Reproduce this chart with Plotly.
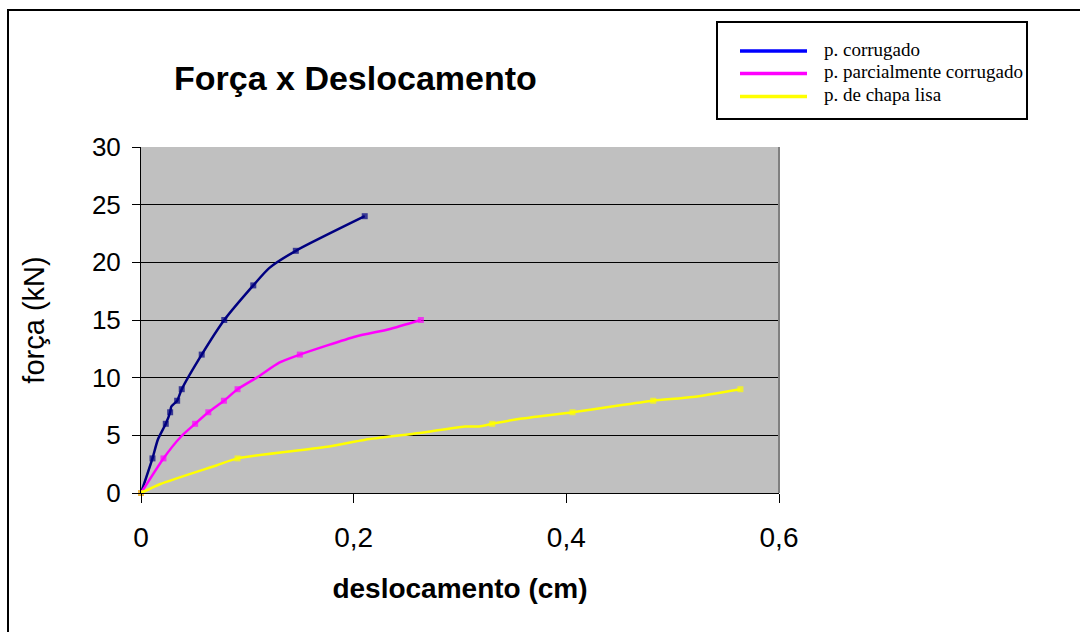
import plotly.graph_objects as go

# Load-displacement readings for the three panel types
corrugado_x = [0, 0.0108, 0.0158, 0.0233, 0.0274, 0.0285, 0.034, 0.0383, 0.0571, 0.0783, 0.1056, 0.1205, 0.1456, 0.2104]
corrugado_y = [0, 3, 4.62, 6, 7, 7.5, 8, 9, 12, 15, 18, 19.5, 21, 24]
corrugado_mark = [1, 1, 0, 1, 1, 0, 1, 1, 1, 1, 1, 0, 1, 1]

parcial_x = [0, 0.0211, 0.0377, 0.0509, 0.0633, 0.078, 0.0908, 0.1096, 0.13, 0.1494, 0.202, 0.2332, 0.2632]
parcial_y = [0, 3, 4.9, 6, 7, 8, 9, 10.05, 11.3, 12, 13.57, 14.2, 15]
parcial_mark = [1, 1, 0, 1, 1, 1, 1, 0, 0, 1, 0, 0, 1]

lisa_x = [0, 0.0183, 0.0708, 0.0908, 0.177, 0.211, 0.2618, 0.3045, 0.318, 0.3303, 0.355, 0.4058, 0.4428, 0.4817, 0.5187, 0.5637]
lisa_y = [0, 0.78, 2.39, 3, 4.04, 4.62, 5.2, 5.77, 5.77, 6, 6.41, 7, 7.5, 8, 8.32, 9]
lisa_mark = [1, 0, 0, 1, 0, 0, 0, 0, 0, 1, 0, 1, 0, 1, 0, 1]

series_names = ["p. corrugado", "p. parcialmente corrugado", "p. de chapa lisa"]
line_colors = ["#000080", "#FF00FF", "#FFFF00"]
legend_colors = ["#0000FF", "#FF00FF", "#FFFF00"]

W, H = 1080, 632
L, R, T, B = 141, 779, 147, 493


def px(xp):
    return (xp - L) / (R - L)


def py(yp):
    return (B - yp) / (B - T)


fig = go.Figure()
for xs, ys, mk, name, col in [
    (corrugado_x, corrugado_y, corrugado_mark, series_names[0], line_colors[0]),
    (parcial_x, parcial_y, parcial_mark, series_names[1], line_colors[1]),
    (lisa_x, lisa_y, lisa_mark, series_names[2], line_colors[2]),
]:
    fig.add_trace(go.Scatter(
        x=xs, y=ys, name=name, mode="lines+markers",
        line=dict(color=col, width=2.5, shape="spline", smoothing=0.6),
        marker=dict(symbol="square", size=[6 if m else 0 for m in mk], color=col,
                    line=dict(width=0)),
        showlegend=False, cliponaxis=False,
    ))

shapes = []
# Outer chart frame
shapes.append(dict(type="rect", xref="paper", yref="paper",
                   x0=px(8), x1=px(1100), y0=py(10), y1=py(660),
                   line=dict(color="black", width=2), layer="below"))
# Gray right edge of plot area
shapes.append(dict(type="line", xref="paper", yref="paper",
                   x0=1, x1=1, y0=0, y1=1, line=dict(color="#808080", width=2)))
# Legend box
shapes.append(dict(type="rect", xref="paper", yref="paper",
                   x0=px(717), x1=px(1027), y0=py(22), y1=py(119),
                   line=dict(color="black", width=2), fillcolor="white"))
annotations = []
for i, (name, col) in enumerate(zip(series_names, legend_colors)):
    yy = [51, 73.5, 96.5][i]
    shapes.append(dict(type="line", xref="paper", yref="paper",
                       x0=px(740), x1=px(807), y0=py(yy), y1=py(yy),
                       line=dict(color=col, width=3.5)))
    annotations.append(dict(xref="paper", yref="paper", x=px(822), y=py(yy - 1.5),
                            xanchor="left", yanchor="middle", showarrow=False,
                            text=name,
                            font=dict(family="Liberation Serif", size=19, color="black")))

# Chart title
annotations.append(dict(xref="paper", yref="paper", x=px(355), y=py(78),
                        xanchor="center", yanchor="middle", showarrow=False,
                        text="<b>Força x Deslocamento</b>",
                        font=dict(family="Arial, Liberation Sans", size=34, color="black")))

fig.update_layout(
    width=W, height=H,
    margin=dict(l=L, r=W - R, t=T, b=H - B, pad=0),
    paper_bgcolor="white", plot_bgcolor="#C0C0C0",
    separators=",.",
    font=dict(family="Arial, Liberation Sans", color="black"),
    shapes=shapes, annotations=annotations,
    xaxis=dict(
        range=[0, 0.6], dtick=0.2, tick0=0,
        showgrid=False, zeroline=False,
        showline=True, linecolor="black", linewidth=1,
        ticks="outside", ticklen=9, tickcolor="black", tickwidth=1,
        tickfont=dict(size=28), ticklabelstandoff=10,
        title=dict(text="<b>deslocamento (cm)</b>", font=dict(size=28), standoff=26),
    ),
    yaxis=dict(
        range=[0, 30], dtick=5, tick0=0,
        showgrid=True, gridcolor="black", gridwidth=1,
        zeroline=False,
        showline=True, linecolor="black", linewidth=1,
        ticks="outside", ticklen=8, tickcolor="black", tickwidth=1,
        tickfont=dict(size=26), ticklabelstandoff=6,
        title=dict(text="força (kN)", font=dict(size=29), standoff=38),
    ),
)

fig.write_html("out.html")
